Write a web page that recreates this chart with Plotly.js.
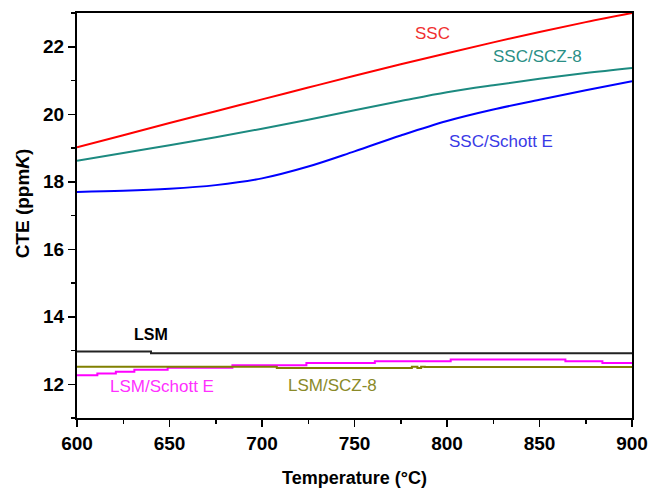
<!DOCTYPE html>
<html>
<head>
<meta charset="utf-8">
<script src="https://cdn.plot.ly/plotly-3.0.1.min.js"></script>
<style>
  html, body { margin: 0; padding: 0; background: #fff; }
  #chart { width: 652px; height: 488px; }
</style>
</head>
<body>
<div id="chart"></div>
<script>
// Temperature grid (°C) for the SSC-based samples
const temps = [600, 625, 650, 675, 700, 725, 750, 775, 800, 825, 850, 875, 900];

// Thermal expansion coefficient (ppm/K)
const ssc        = [19.02, 19.38, 19.74, 20.09, 20.44, 20.79, 21.14, 21.48, 21.81, 22.13, 22.44, 22.73, 23.0];
const sscScz8    = [18.62, 18.85, 19.08, 19.32, 19.57, 19.84, 20.12, 20.39, 20.65, 20.86, 21.05, 21.22, 21.37];
const sscSchottE = [17.70, 17.73, 17.79, 17.90, 18.10, 18.45, 18.90, 19.37, 19.80, 20.14, 20.43, 20.71, 20.98];

// LSM-based samples (stepwise records)
const lsmT          = [600, 640, 900];
const lsm           = [12.97, 12.92, 12.92];
const lsmSchottET   = [600, 611, 621, 631, 649, 684, 724, 761, 802, 864, 884, 900];
const lsmSchottE    = [12.27, 12.32, 12.37, 12.43, 12.49, 12.56, 12.63, 12.68, 12.73, 12.68, 12.63, 12.63];
const lsmScz8T      = [600, 708, 781, 784, 786, 788, 900];
const lsmScz8       = [12.52, 12.48, 12.52, 12.48, 12.52, 12.51, 12.51];

// Curve labels: [text, x, y, colour, bold]
const labels = [
  ['SSC',          792, 22.38, '#f03030', false],
  ['SSC/SCZ-8',    849, 21.72, '#2a8f86', false],
  ['SSC/Schott E', 829, 19.19, '#3a3ae6', false],
  ['LSM',          640, 13.47, '#000000', true],
  ['LSM/Schott E', 646, 11.93, '#ff30ff', false],
  ['LSM/SCZ-8',    738, 11.95, '#8a8a28', false]
];

const font = 'Liberation Sans, Arial, sans-serif';

const traces = [
  {x: temps, y: ssc,        mode: 'lines', line: {color: '#ff0000', width: 2, shape: 'spline'}},
  {x: temps, y: sscScz8,    mode: 'lines', line: {color: '#1c8a80', width: 2, shape: 'spline'}},
  {x: temps, y: sscSchottE, mode: 'lines', line: {color: '#0000ff', width: 2, shape: 'spline'}},
  {x: lsmT, y: lsm, mode: 'lines', line: {color: '#222222', width: 2, shape: 'hv'}},
  {x: lsmSchottET, y: lsmSchottE, mode: 'lines', line: {color: '#ff00ff', width: 2, shape: 'hv'}},
  {x: lsmScz8T, y: lsmScz8, mode: 'lines', line: {color: '#808000', width: 2, shape: 'hv'}}
];

const curveLabels = labels.map(([text, x, y, color, bold]) => ({
  text: text, x: x, y: y, xref: 'x', yref: 'y', showarrow: false,
  font: {size: bold ? 16 : 17, color: color, family: font, weight: bold ? 'bold' : 'normal'}
}));

// Vertical axis title, placed as a rotated annotation
const yTitle = {
  text: 'CTE (ppm<i>K</i>)', xref: 'paper', yref: 'paper', x: 0, y: 0.53,
  xanchor: 'center', yanchor: 'middle', xshift: -55, textangle: -90, showarrow: false,
  font: {size: 19, weight: 'bold', family: font, color: '#000'}
};

const layout = {
  width: 652,
  height: 488,
  margin: {l: 77, r: 20, t: 13, b: 70},
  paper_bgcolor: '#ffffff',
  plot_bgcolor: '#ffffff',
  showlegend: false,
  font: {family: font, color: '#000'},
  xaxis: {
    range: [600, 900],
    tickvals: [600, 650, 700, 750, 800, 850, 900],
    ticks: 'outside', ticklen: 7, tickwidth: 1.5, tickcolor: '#000',
    minor: {dtick: 25, tick0: 600, ticks: 'outside', ticklen: 4, tickwidth: 1.5, tickcolor: '#000'},
    showgrid: false, zeroline: false,
    showline: true, linecolor: '#000', linewidth: 2, mirror: true,
    tickfont: {size: 19, weight: 'bold', family: font},
    title: {text: 'Temperature (°C)', font: {size: 18, weight: 'bold', family: font}, standoff: 20}
  },
  yaxis: {
    range: [11, 23],
    tickvals: [12, 14, 16, 18, 20, 22],
    ticks: 'outside', ticklen: 7, tickwidth: 1.5, tickcolor: '#000',
    minor: {dtick: 1, tick0: 11, ticks: 'outside', ticklen: 4, tickwidth: 1.5, tickcolor: '#000'},
    showgrid: false, zeroline: false,
    showline: true, linecolor: '#000', linewidth: 2, mirror: true,
    tickfont: {size: 19, weight: 'bold', family: font}
  },
  annotations: curveLabels.concat([yTitle])
};

Plotly.newPlot('chart', traces, layout, {displayModeBar: false, staticPlot: true});
</script>
</body>
</html>
